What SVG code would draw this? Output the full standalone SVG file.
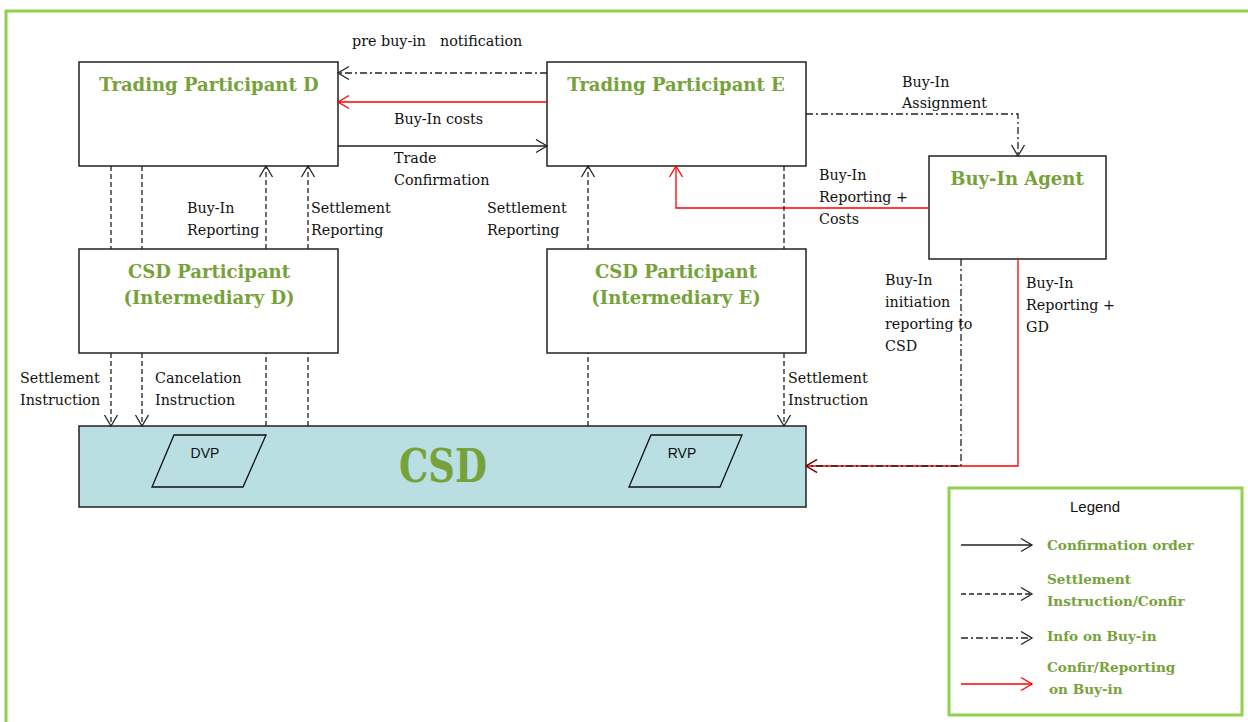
<svg xmlns="http://www.w3.org/2000/svg" width="1248" height="722" viewBox="0 0 1248 722">
<style>
.box{fill:#fff;stroke:#222;stroke-width:1.5}
.title{font-family:"DejaVu Serif","Liberation Serif",serif;font-weight:bold;fill:#77A23A;text-anchor:middle}
.lbl{font-family:"DejaVu Serif","Liberation Serif",serif;font-size:14.3px;fill:#111}
.leg{font-family:"DejaVu Serif","Liberation Serif",serif;font-weight:bold;font-size:13.6px;fill:#77A23A}
.sans{font-family:"Liberation Sans",Arial,sans-serif;fill:#111}
.solid{fill:none;stroke:#222;stroke-width:1.3}
.dash{fill:none;stroke:#222;stroke-width:1.3;stroke-dasharray:5 3}
.dashdot{fill:none;stroke:#222;stroke-width:1.3;stroke-dasharray:7 3 2 3}
.red{fill:none;stroke:#F00;stroke-width:1.3}
</style>
<defs>
<marker id="ab" markerUnits="userSpaceOnUse" markerWidth="14" markerHeight="16" viewBox="0 0 14 16" refX="12" refY="8" orient="auto"><path d="M1,1.5 L12,8 L1,14.5" fill="none" stroke="#222" stroke-width="1.3"/></marker>
<marker id="ar" markerUnits="userSpaceOnUse" markerWidth="14" markerHeight="16" viewBox="0 0 14 16" refX="12" refY="8" orient="auto"><path d="M1,1.5 L12,8 L1,14.5" fill="none" stroke="#F00" stroke-width="1.3"/></marker>
<marker id="ad" markerUnits="userSpaceOnUse" markerWidth="14" markerHeight="16" viewBox="0 0 14 16" refX="12" refY="8" orient="auto"><path d="M1,1.5 L12,8 L1,14.5" fill="none" stroke="#5a1010" stroke-width="1.3"/></marker>
</defs>
<rect x="6" y="11" width="1260" height="730" fill="none" stroke="#92D050" stroke-width="3"/>

<g id="tp-d"><rect class="box" x="79" y="62" width="259" height="104"/><text class="title" x="209" y="91" font-size="18">Trading Participant D</text></g>
<g id="tp-e"><rect class="box" x="547" y="62" width="259" height="104"/><text class="title" x="676" y="91" font-size="18">Trading Participant E</text></g>
<g id="agent"><rect class="box" x="929" y="156" width="177" height="103"/><text class="title" x="1017" y="185" font-size="18">Buy-In Agent</text></g>
<g id="csdp-d"><rect class="box" x="79" y="249" width="259" height="104"/><text class="title" x="209" y="278" font-size="18">CSD Participant</text><text class="title" x="209" y="304" font-size="18">(Intermediary D)</text></g>
<g id="csdp-e"><rect class="box" x="547" y="249" width="259" height="104"/><text class="title" x="676" y="278" font-size="18">CSD Participant</text><text class="title" x="676" y="304" font-size="18">(Intermediary E)</text></g>
<g id="csd"><rect x="79" y="426" width="727" height="81" fill="#B9DFE2" stroke="#222" stroke-width="1.5"/><text class="title" x="443" y="482" font-size="46" textLength="88" lengthAdjust="spacingAndGlyphs">CSD</text></g>
<g id="dvp"><polygon points="174,435 266,435 243,487 152,487" fill="none" stroke="#111" stroke-width="1.3"/><text class="sans" x="205" y="458" font-size="14" text-anchor="middle">DVP</text></g>
<g id="rvp"><polygon points="651,435 742,435 720,487 629,487" fill="none" stroke="#111" stroke-width="1.3"/><text class="sans" x="682" y="458" font-size="14" text-anchor="middle">RVP</text></g>

<g id="connectors">
<path class="dashdot" d="M547,73 H338" marker-end="url(#ab)"/>
<path class="red" d="M547,102 H338" marker-end="url(#ar)"/>
<path class="solid" d="M338,146 H547" marker-end="url(#ab)"/>
<path class="dashdot" d="M806,114 H1018 V156" marker-end="url(#ab)"/>
<path class="red" d="M929,208 H676 V166" marker-end="url(#ar)"/>
<path class="red" d="M1018,259 V466 H806" marker-end="url(#ar)"/>
<path class="dashdot" d="M961,259 V466 H806" marker-end="url(#ad)"/>
<path class="dash" d="M111,166 V249"/><path class="dash" d="M111,353 V426" marker-end="url(#ab)"/>
<path class="dash" d="M142,166 V249"/><path class="dash" d="M142,353 V426" marker-end="url(#ab)"/>
<path class="dash" d="M266,426 V353"/><path class="dash" d="M266,249 V166" marker-end="url(#ab)"/>
<path class="dash" d="M308,426 V353"/><path class="dash" d="M308,249 V166" marker-end="url(#ab)"/>
<path class="dash" d="M588,426 V353"/><path class="dash" d="M588,249 V166" marker-end="url(#ab)"/>
<path class="dash" d="M784,166 V249"/><path class="dash" d="M784,353 V426" marker-end="url(#ab)"/>
</g>

<g id="labels">
<text class="lbl" x="352" y="46">pre buy-in</text><text class="lbl" x="440" y="46">notification</text>
<text class="lbl" x="394" y="124">Buy-In costs</text>
<text class="lbl" x="394" y="163">Trade</text><text class="lbl" x="394" y="185">Confirmation</text>
<text class="lbl" x="902" y="87">Buy-In</text><text class="lbl" x="902" y="108">Assignment</text>
<text class="lbl" x="819" y="180">Buy-In</text><text class="lbl" x="819" y="202">Reporting +</text><text class="lbl" x="819" y="224">Costs</text>
<text class="lbl" x="187" y="213">Buy-In</text><text class="lbl" x="187" y="235">Reporting</text>
<text class="lbl" x="311" y="213">Settlement</text><text class="lbl" x="311" y="235">Reporting</text>
<text class="lbl" x="487" y="213">Settlement</text><text class="lbl" x="487" y="235">Reporting</text>
<text class="lbl" x="20" y="383">Settlement</text><text class="lbl" x="20" y="405">Instruction</text>
<text class="lbl" x="155" y="383">Cancelation</text><text class="lbl" x="155" y="405">Instruction</text>
<text class="lbl" x="788" y="383">Settlement</text><text class="lbl" x="788" y="405">Instruction</text>
<text class="lbl" x="885" y="285">Buy-In</text><text class="lbl" x="885" y="307">initiation</text><text class="lbl" x="885" y="329">reporting to</text><text class="lbl" x="885" y="351">CSD</text>
<text class="lbl" x="1026" y="288">Buy-In</text><text class="lbl" x="1026" y="310">Reporting +</text><text class="lbl" x="1026" y="332">GD</text>
</g>

<g id="legend">
<rect x="949" y="488" width="293" height="227" fill="#fff" stroke="#92D050" stroke-width="3"/>
<text class="sans" x="1095" y="512" font-size="15" text-anchor="middle">Legend</text>
<path class="solid" d="M961,545 H1032" marker-end="url(#ab)"/>
<path class="dash" d="M961,594 H1032" marker-end="url(#ab)"/>
<path class="dashdot" d="M961,638 H1032" marker-end="url(#ab)"/>
<path class="red" d="M961,684 H1032" marker-end="url(#ar)"/>
<text class="leg" x="1047" y="550">Confirmation order</text>
<text class="leg" x="1047" y="584">Settlement</text><text class="leg" x="1047" y="606">Instruction/Confir</text>
<text class="leg" x="1047" y="641">Info on Buy-in</text>
<text class="leg" x="1047" y="672">Confir/Reporting</text><text class="leg" x="1049" y="694"> on Buy-in</text>
</g>
</svg>
